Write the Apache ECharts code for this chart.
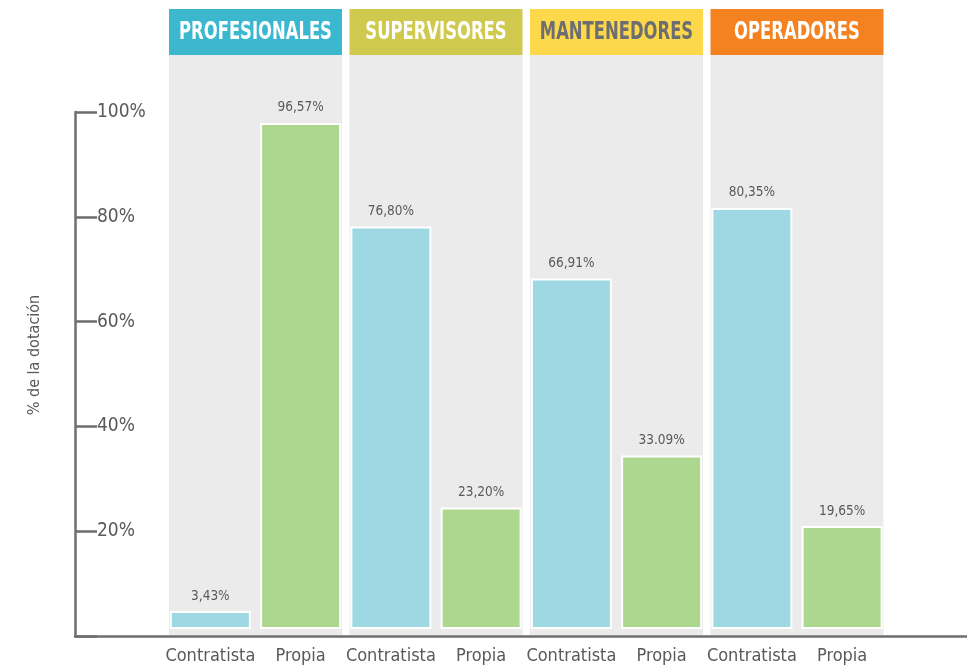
<!DOCTYPE html>
<html>
<head>
<meta charset="utf-8">
<script src="https://cdn.jsdelivr.net/npm/echarts@6/dist/echarts.min.js"></script>
<style>html,body{margin:0;padding:0;background:#fff}#c{width:967px;height:672px}</style>
</head>
<body>
<div id="c"></div>
<script>
const groups = ['PROFESIONALES', 'SUPERVISORES', 'MANTENEDORES', 'OPERADORES'];
const barCategories = ['Contratista', 'Propia'];
const contratista = [3.43, 76.80, 66.91, 80.35];
const propia = [96.57, 23.20, 33.09, 19.65];
const contratistaLabels = ['3,43%', '76,80%', '66,91%', '80,35%'];
const propiaLabels = ['96,57%', '23,20%', '33.09%', '19,65%'];
const yTicks = [0, 20, 40, 60, 80, 100];
const yTickLabels = ['', '20%', '40%', '60%', '80%', '100%'];
const yAxisTitle = '% de la dotación';

const headerColors = ['#3BB8CE', '#CFCA4E', '#FDD84A', '#F58220'];
const headerTextColors = ['#ffffff', '#ffffff', '#6D6E71', '#ffffff'];
const FONT = '"Liberation Sans Narrow", "DejaVu Sans Condensed", "Roboto", sans-serif';
const GRAY = '#58595B';
const AXIS = '#6D6E71';

const cats = [], vals = [], labs = [], cols = [];
groups.forEach((g, i) => {
  cats.push(barCategories[0]); vals.push(contratista[i]); labs.push(contratistaLabels[i]); cols.push('#9DD8E3');
  cats.push(barCategories[1]); vals.push(propia[i]); labs.push(propiaLabels[i]); cols.push('#ADD68E');
});

const PANEL_TOP = 9, HEADER_BOTTOM = 55, PANEL_BOTTOM = 635;
const chart = echarts.init(document.getElementById('c'), null, {renderer: 'canvas'});
chart.setOption({
  animation: false,
  grid: [
    {left: 165.25, right: 79.75, top: PANEL_TOP, bottom: 672 - PANEL_BOTTOM},
    {left: 75, right: 0, top: 112, bottom: 36},
    {left: 165.25, right: 79.75, top: 105, bottom: 43}
  ],
  xAxis: [
    {gridIndex: 0, type: 'category', data: groups, show: false},
    {gridIndex: 1, type: 'value', min: 0, max: 1, axisLine: {show: true, onZero: false, lineStyle: {color: AXIS, width: 2.5}},
      axisTick: {show: false}, axisLabel: {show: false}, splitLine: {show: false}},
    {gridIndex: 2, type: 'category', data: cats, axisLine: {show: false}, axisTick: {show: false},
      axisLabel: {color: GRAY, fontFamily: FONT, fontSize: 18, margin: 18, interval: 0}}
  ],
  yAxis: [
    {gridIndex: 0, type: 'value', min: 0, max: PANEL_BOTTOM - PANEL_TOP, show: false},
    {gridIndex: 1, type: 'value', min: 0, max: 100, interval: 20,
      axisLine: {show: true, lineStyle: {color: AXIS, width: 2.5}},
      axisTick: {show: true, inside: true, length: 22, lineStyle: {color: AXIS, width: 2.5}},
      axisLabel: {inside: true, margin: 22, color: GRAY, fontFamily: FONT, fontSize: 19,
        formatter: v => yTickLabels[yTicks.indexOf(v)] || ''},
      splitLine: {show: false}},
    {gridIndex: 2, type: 'value', min: 0, max: 100, show: false}
  ],
  series: [
    {type: 'bar', xAxisIndex: 0, yAxisIndex: 0, stack: 'p', barWidth: 173, silent: true,
      data: groups.map(() => PANEL_BOTTOM - HEADER_BOTTOM), itemStyle: {color: '#EBEBEB'}},
    {type: 'bar', xAxisIndex: 0, yAxisIndex: 0, stack: 'p', barWidth: 173, silent: true,
      data: groups.map((g, i) => ({value: HEADER_BOTTOM - PANEL_TOP, itemStyle: {color: headerColors[i]}}))},
    {type: 'bar', xAxisIndex: 2, yAxisIndex: 2, barWidth: 81,
      data: vals.map((v, i) => ({value: v, itemStyle: {color: cols[i]}})),
      itemStyle: {borderColor: '#ffffff', borderWidth: 2},
      label: {show: true, position: 'top', distance: 8, color: GRAY, fontFamily: FONT, fontSize: 13.5,
        formatter: p => labs[p.dataIndex]}}
  ]
});

// Header titles, placed through the panel axis scales, horizontally condensed.
const headerMidValue = (PANEL_BOTTOM - HEADER_BOTTOM) + (HEADER_BOTTOM - PANEL_TOP) / 2;
const graphics = groups.map((g, i) => {
  const px = chart.convertToPixel({xAxisIndex: 0, yAxisIndex: 0}, [i, headerMidValue]);
  return {
    type: 'text', x: px[0], y: px[1] + 1, scaleX: 0.76, silent: true, z: 100,
    style: {text: g, fill: headerTextColors[i], font: 'bold 24px ' + FONT, textAlign: 'center', textVerticalAlign: 'middle'}
  };
});
graphics.push({
  type: 'text', x: 35, y: 355, rotation: Math.PI / 2, silent: true, z: 100,
  style: {text: yAxisTitle, fill: GRAY, font: '16px ' + FONT, textAlign: 'center', textVerticalAlign: 'middle'}
});
chart.setOption({graphic: graphics});
</script>
</body>
</html>
